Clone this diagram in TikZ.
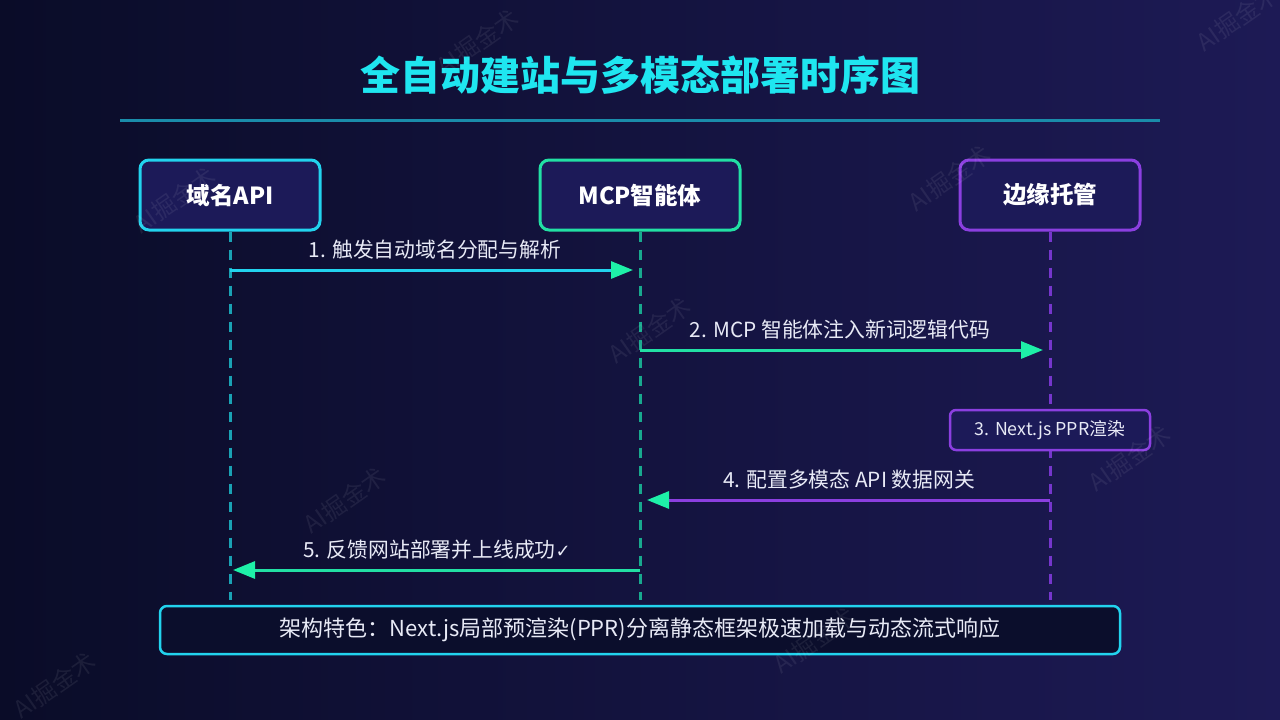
\documentclass[tikz,border=0pt]{standalone}
\usepackage{fontspec}
\setmainfont{Noto Sans CJK SC}
\newfontfamily\symfont{DejaVu Sans}
\usetikzlibrary{arrows.meta}
\definecolor{bgL}{HTML}{0A0C28}
\definecolor{bgR}{HTML}{1D1A55}
\definecolor{titlec}{HTML}{1FE6F0}
\definecolor{rulec}{HTML}{1A8CAA}
\definecolor{cyanc}{HTML}{22D3EE}
\definecolor{greenc}{HTML}{22E0A4}
\definecolor{purplec}{HTML}{8B3FE0}
\definecolor{boxfill}{HTML}{1C1A58}
\definecolor{darkfill}{HTML}{0B0E2C}
\definecolor{lifecyan}{HTML}{1AA2B4}
\definecolor{lifegreen}{HTML}{18A98E}
\definecolor{lifepurple}{HTML}{7536CC}
\definecolor{labelc}{HTML}{E8EAF6}
\definecolor{tipgreen}{HTML}{1EF0A8}
\tikzset{
  actor/.style={draw, line width=3pt, rounded corners=9pt, fill=boxfill,
    minimum width=180pt, minimum height=70pt, text=white,
    font=\fontsize{23.5}{28}\selectfont\bfseries},
  life/.style={line width=3pt, dash pattern=on 10pt off 8pt},
  msg/.style={line width=3pt, -{Triangle[length=22pt,width=17pt,color=tipgreen]}},
  msglabel/.style={text=labelc, font=\fontsize{20.8}{25}\selectfont, anchor=base},
  notebox/.style={draw=purplec, line width=2.5pt, rounded corners=6pt, fill=boxfill,
    minimum width=200pt, minimum height=40pt, text=labelc,
    font=\fontsize{17.8}{21}\selectfont},
  featbox/.style={draw=cyanc, line width=2.5pt, rounded corners=7pt, fill=darkfill,
    minimum width=960pt, minimum height=48pt, text=labelc,
    font=\fontsize{22}{26}\selectfont},
  wm/.style={text=white, opacity=0.07, rotate=35, font=\fontsize{24}{28}\selectfont}
}
\begin{document}
\begin{tikzpicture}[x=1pt,y=-1pt]
\useasboundingbox (0,0) rectangle (1280,720);
\shade[left color=bgL, right color=bgR] (0,0) rectangle (1280,720);

% title
\node[text=titlec, font=\fontsize{40}{46}\selectfont\bfseries] (title) at (640,75) {全自动建站与多模态部署时序图};
\coordinate (ruleL) at (120,120);
\coordinate (ruleR) at (1160,120);
\draw[rulec, line width=3pt] (ruleL) -- (ruleR);

% actors
\node[actor, draw=cyanc] (api) at (230,195) {域名API};
\node[actor, draw=greenc, minimum width=200pt] (mcp) at (640,195) {MCP智能体};
\node[actor, draw=purplec] (edge) at (1050,195) {边缘托管};

% lifelines
\coordinate (apiEnd) at (230,600);
\coordinate (mcpEnd) at (640,600);
\coordinate (edgeEnd) at (1050,600);
\draw[life, lifecyan] (api.south) -- (apiEnd);
\draw[life, lifegreen] (mcp.south) -- (mcpEnd);
\draw[life, lifepurple] (edge.south) -- (edgeEnd);

% message points
\coordinate (a1) at (230,270); \coordinate (m1) at (640,270);
\coordinate (m2) at (640,350); \coordinate (e2) at (1050,350);
\coordinate (e4) at (1050,500); \coordinate (m4) at (640,500);
\coordinate (m5) at (640,570); \coordinate (a5) at (230,570);

\draw[msg, cyanc, shorten >=7pt] (a1) -- (m1);
\node[msglabel] (l1) at (435,257) {1. 触发自动域名分配与解析};

\draw[msg, greenc, shorten >=7pt] (m2) -- (e2);
\node[msglabel] (l2) at (840,337) {2. MCP 智能体注入新词逻辑代码};

\node[notebox] (ppr) at (1050,430) {3. Next.js PPR渲染};

\draw[msg, purplec, shorten >=7pt] (e4) -- (m4);
\node[msglabel] (l4) at (849,487) {4. 配置多模态 API 数据网关};

\draw[msg, greenc, shorten >=3pt] (m5) -- (a5);
\node[msglabel] (l5) at (437,557) {5. 反馈网站部署并上线成功{\symfont\fontsize{18}{20}\selectfont ✓}};

% feature box
\node[featbox] (feat) at (640,630) {架构特色：Next.js局部预渲染(PPR)分离静态框架极速加载与动态流式响应};

% watermarks (overlay)
\node[wm] (w1) at (478,42) {AI掘金术};
\node[wm] (w2) at (1238,18) {AI掘金术};
\node[wm] (w3) at (175,200) {AI掘金术};
\node[wm] (w4) at (950,178) {AI掘金术};
\node[wm] (w5) at (650,330) {AI掘金术};
\node[wm] (w6) at (345,500) {AI掘金术};
\node[wm] (w7) at (1130,458) {AI掘金术};
\node[wm] (w8) at (815,640) {AI掘金术};
\node[wm] (w9) at (55,685) {AI掘金术};
\end{tikzpicture}
\end{document}
